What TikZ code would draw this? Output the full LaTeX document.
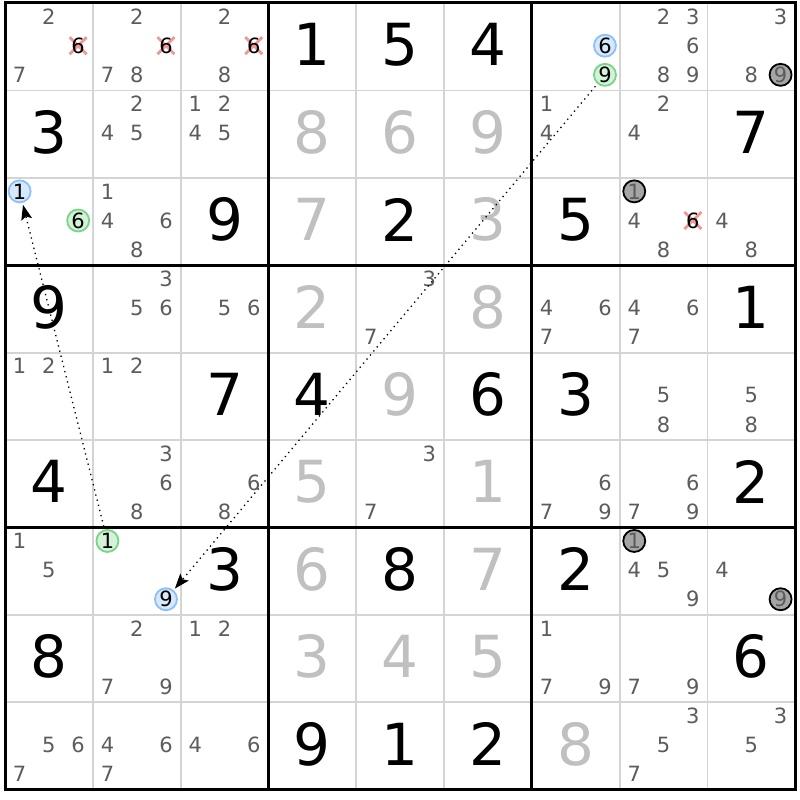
\documentclass[tikz,border=0pt]{standalone}
\usepackage{fontspec}
\setmainfont{DejaVu Sans}
\usepackage{xcolor}
\usepackage{tikz}
\usetikzlibrary{arrows.meta}
\usetikzlibrary{calc}

\definecolor{candgray}{RGB}{92,92,92}
\definecolor{solvedgray}{RGB}{192,192,192}
\definecolor{thingrid}{RGB}{212,212,212}
\definecolor{bluefill}{RGB}{214,232,252}
\definecolor{blueline}{RGB}{140,192,248}
\definecolor{greenfill}{RGB}{212,242,216}
\definecolor{greenline}{RGB}{120,212,136}
\definecolor{dotfill}{RGB}{165,165,165}
\definecolor{dotdigit}{RGB}{92,92,92}
\definecolor{crosspink}{RGB}{242,150,150}

\newcommand{\bigsize}{\fontsize{58}{58}\selectfont}
\newcommand{\candsize}{\fontsize{21}{21}\selectfont}
\def\cw{87.8}
\def\ch{87.4}

\begin{document}
\begin{tikzpicture}[x=1pt,y=-1pt]
	\tikzstyle{given}=[inner sep=0pt, font=\bigsize, text=black]
	\tikzstyle{solved}=[inner sep=0pt, font=\bigsize, text=solvedgray]
	\tikzstyle{cand}=[inner sep=0pt, font=\candsize, text=candgray]
	\tikzstyle{struck}=[inner sep=0pt, font=\candsize, text=black]
	\tikzstyle{ring}=[circle, inner sep=0pt, minimum size=22pt, line width=1.8pt, font=\candsize]
	\tikzstyle{bluering}=[ring, draw=blueline, fill=bluefill, text=black]
	\tikzstyle{greenring}=[ring, draw=greenline, fill=greenfill, text=black]
	\tikzstyle{dotring}=[ring, draw=black, fill=dotfill, text=dotdigit]
	\tikzstyle{strike}=[crosspink, line width=2.8pt]
	\tikzstyle{thinline}=[thingrid, line width=1.8pt]
	\tikzstyle{boxline}=[black, line width=3pt]
	\tikzstyle{link}=[-{Stealth[length=15pt,width=11pt,inset=3pt]}, line width=1.3pt, dash pattern=on 1.3pt off 4pt, shorten <=3pt, shorten >=2pt]

	\useasboundingbox[fill=white] (0,0) rectangle (800,800);

	% grid
	\foreach \i in {1,2,4,5,7,8} {
		\draw[thinline] ({5+\i*\cw},3) -- ({5+\i*\cw},{3+9*\ch});
		\draw[thinline] (5,{3+\i*\ch}) -- ({5+9*\cw},{3+\i*\ch});
	}
	\foreach \i in {3,6} {
		\draw[boxline] ({5+\i*\cw},3) -- ({5+\i*\cw},{3+9*\ch});
		\draw[boxline] (5,{3+\i*\ch}) -- ({5+9*\cw},{3+\i*\ch});
	}
	\draw[boxline] (5,3) rectangle ({5+9*\cw},{3+9*\ch});

	% given digits
	\foreach \r/\c/\d in {1/4/1,1/5/5,1/6/4,2/1/3,2/9/7,3/3/9,3/5/2,3/7/5,4/1/9,4/9/1,
		5/3/7,5/4/4,5/6/6,5/7/3,6/1/4,6/9/2,7/3/3,7/5/8,7/7/2,8/1/8,8/9/6,9/4/9,9/5/1,9/6/2}
		\node[given] (g\r-\c) at ({5+(\c-0.5)*\cw},{3+(\r-0.5)*\ch-2}) {\d};

	% solved digits
	\foreach \r/\c/\d in {2/4/8,2/5/6,2/6/9,3/4/7,3/6/3,4/4/2,4/6/8,5/5/9,6/4/5,6/6/1,
		7/4/6,7/6/7,8/4/3,8/5/4,8/6/5,9/7/8}
		\node[solved] (g\r-\c) at ({5+(\c-0.5)*\cw},{3+(\r-0.5)*\ch-2}) {\d};

	% candidates
	\foreach \r/\c/\ds in {1/1/{2,7},1/2/{2,7,8},1/3/{2,8},1/8/{2,3,6,8,9},1/9/{3,8},
		2/2/{2,4,5},2/3/{1,2,4,5},2/7/{1,4},2/8/{2,4},
		3/2/{1,4,6,8},3/8/{4,8},3/9/{4,8},
		4/2/{3,5,6},4/3/{5,6},4/5/{3,7},4/7/{4,6,7},4/8/{4,6,7},
		5/1/{1,2},5/2/{1,2},5/8/{5,8},5/9/{5,8},
		6/2/{3,6,8},6/3/{6,8},6/5/{3,7},6/7/{6,7,9},6/8/{6,7,9},
		7/1/{1,5},7/8/{4,5,9},7/9/{4},
		8/2/{2,7,9},8/3/{1,2},8/7/{1,7,9},8/8/{7,9},
		9/1/{5,6,7},9/2/{4,6,7},9/3/{4,6},9/8/{3,5,7},9/9/{3,5}}
		\foreach \d in \ds {
			\pgfmathsetmacro\px{5+(\c-1)*\cw+(mod(\d-1,3)+0.5)*\cw/3}
			\pgfmathsetmacro\py{3+(\r-1)*\ch+(floor((\d-1)/3)+0.5)*\ch/3-1}
			\node[cand] (n\r-\c-\d) at (\px,\py) {\d};
		}

	% eliminated candidates
	\foreach \r/\c/\d in {1/1/6,1/2/6,1/3/6,3/8/6} {
		\pgfmathsetmacro\px{5+(\c-1)*\cw+(mod(\d-1,3)+0.5)*\cw/3}
		\pgfmathsetmacro\py{3+(\r-1)*\ch+(floor((\d-1)/3)+0.5)*\ch/3-1}
		\draw[strike] ({\px-8.5},{\py-8.5}) -- ({\px+8.5},{\py+8.5});
		\draw[strike] ({\px-8.5},{\py+8.5}) -- ({\px+8.5},{\py-8.5});
		\node[struck] (n\r-\c-\d) at (\px,\py) {\d};
	}

	% marked candidates
	\foreach \r/\c/\d in {1/7/6,3/1/1,7/2/9} {
		\pgfmathsetmacro\px{5+(\c-1)*\cw+(mod(\d-1,3)+0.5)*\cw/3}
		\pgfmathsetmacro\py{3+(\r-1)*\ch+(floor((\d-1)/3)+0.5)*\ch/3-1}
		\node[bluering] (n\r-\c-\d) at (\px,\py) {\d};
	}
	\foreach \r/\c/\d in {1/7/9,3/1/6,7/2/1} {
		\pgfmathsetmacro\px{5+(\c-1)*\cw+(mod(\d-1,3)+0.5)*\cw/3}
		\pgfmathsetmacro\py{3+(\r-1)*\ch+(floor((\d-1)/3)+0.5)*\ch/3-1}
		\node[greenring] (n\r-\c-\d) at (\px,\py) {\d};
	}
	\foreach \r/\c/\d in {1/9/9,3/8/1,7/8/1,7/9/9} {
		\pgfmathsetmacro\px{5+(\c-1)*\cw+(mod(\d-1,3)+0.5)*\cw/3}
		\pgfmathsetmacro\py{3+(\r-1)*\ch+(floor((\d-1)/3)+0.5)*\ch/3-1}
		\node[dotring] (n\r-\c-\d) at (\px,\py) {\d};
	}

	% links
	\draw[link] (n7-2-1) -- (n3-1-1);
	\draw[link] (n1-7-9) -- (n7-2-9);
\end{tikzpicture}
\end{document}
